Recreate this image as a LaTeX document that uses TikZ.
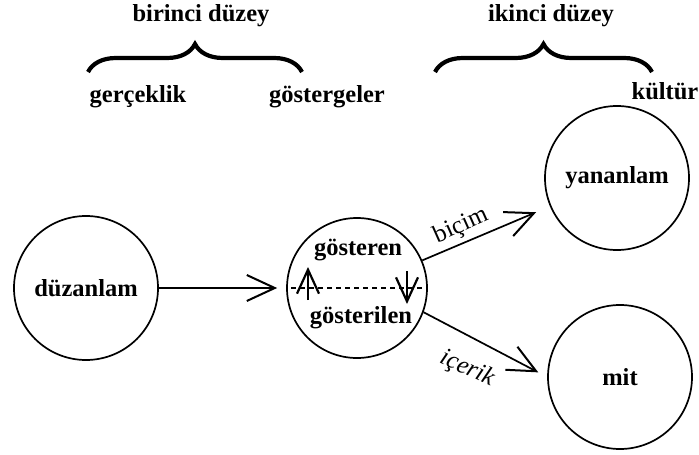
\documentclass[tikz,border=0pt]{standalone}
\usepackage{fontspec}
\setmainfont{Liberation Serif}
\usetikzlibrary{arrows.meta,decorations.pathreplacing}
\begin{document}
\begin{tikzpicture}[x=1pt,y=-1pt,
  txt/.style={font=\fontsize{24.5}{29}\selectfont\bfseries},
  circ/.style={circle,draw,line width=1.7pt,minimum size=144pt,inner sep=0pt,txt},
  lbl/.style={inner sep=0pt,txt},
  albl/.style={inner sep=0pt,font=\fontsize{25}{29}\selectfont},
  arr/.style={line width=1.7pt,-{Straight Barb[length=28pt,width=26pt,line width=2pt]}},
  sarr/.style={line width=1.4pt,-{Straight Barb[length=24pt,width=22pt,line width=2.2pt]}},
  brc/.style={decorate,decoration={brace,amplitude=28pt},line width=4.2pt}]
\fill[white] (0,0) rectangle (699,455);
\useasboundingbox (0,0) rectangle (699,455);
% headings
\node[lbl] (h1) at (201,16) {birinci düzey};
\node[lbl] (h2) at (551,16) {ikinci düzey};
\coordinate (b1a) at (88,72);
\coordinate (b1b) at (302,72);
\coordinate (b2a) at (435,72);
\coordinate (b2b) at (652,72);
\draw[brc] (b1a) -- (b1b);
\draw[brc] (b2a) -- (b2b);
\node[lbl] (ger) at (138,97) {gerçeklik};
\node[lbl] (gos) at (327,97) {göstergeler};
\node[lbl] (kul) at (665,91) {kültür};
% circles
\node[circ] (duz) at (86,288) {düzanlam};
\node[circ,minimum size=140pt] (mid) at (357,288) {};
\node[circ] (yan) at (617,178) {yananlam};
\node[circ] (mit) at (620,377) {mit};
\node[lbl] (gst) at (358,250) {gösteren};
\node[lbl] (gsl) at (361,318) {gösterilen};
\draw[dash pattern=on 5pt off 4pt,line width=1.3pt,shorten <=5pt,shorten >=2pt] (mid.west) -- (mid.east);
\coordinate (u1) at (308,300);
\coordinate (u2) at (308,267);
\coordinate (d1) at (407,271);
\coordinate (d2) at (407,304);
\draw[sarr] (u1) -- (u2);
\draw[sarr] (d1) -- (d2);
% arrows
\draw[arr,shorten >=9pt] (duz) -- (mid);
\draw[arr,shorten >=15pt] (mid) -- (yan);
\draw[arr,shorten >=10pt] (mid.-20) -- (mit.west);
\node[albl,rotate=24] (bic) at (461,226) {biçim};
\node[albl,rotate=-24] (ice) at (467,369) {\itshape içerik};
\end{tikzpicture}
\end{document}
